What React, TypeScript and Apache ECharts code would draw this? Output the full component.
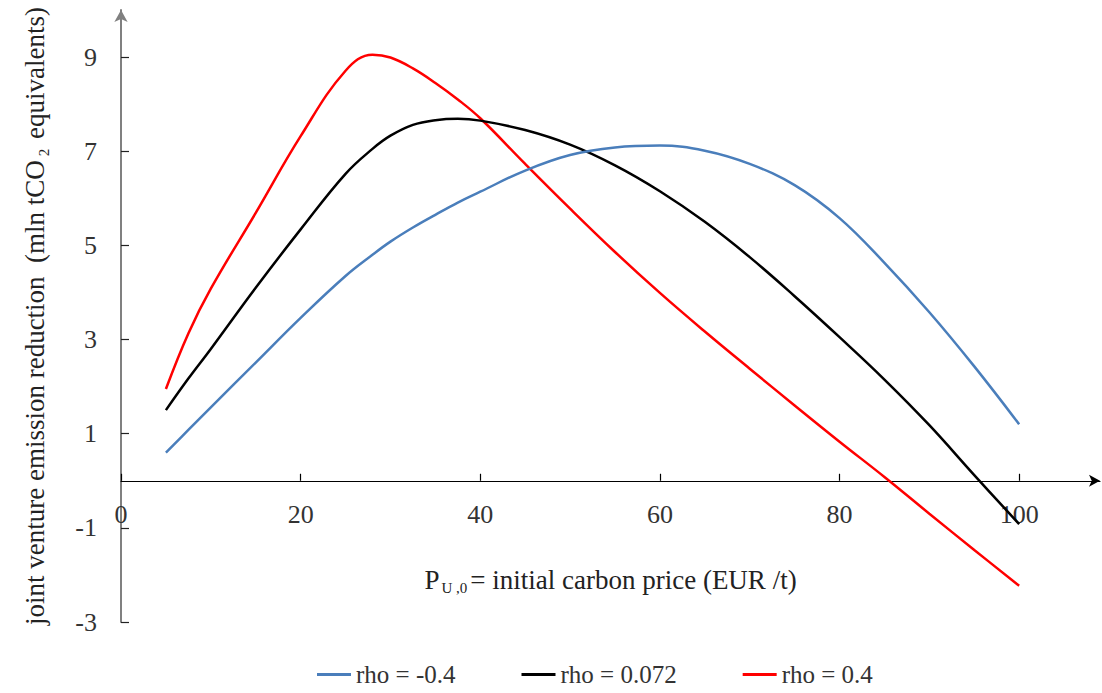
import React, { useEffect, useRef } from "react";
import * as echarts from "echarts";

// Initial carbon price P_U,0 (EUR/t)
const prices = [5, 7.5, 10, 15, 20, 25, 28, 30, 32.5, 35, 37.5, 40, 45, 50, 55, 60, 65, 70, 75, 80, 85, 90, 95, 100];

// Joint venture emission reduction (mln tCO2 equivalents) per correlation rho
const rhoNeg04 = [0.6, 1.08, 1.56, 2.51, 3.46, 4.35, 4.8, 5.08, 5.38, 5.65, 5.91, 6.14, 6.59, 6.92, 7.08, 7.12, 7.01, 6.73, 6.28, 5.58, 4.63, 3.58, 2.43, 1.2];
const rho0072 = [1.5, 2.17, 2.8, 4.1, 5.34, 6.52, 7.05, 7.33, 7.56, 7.66, 7.69, 7.65, 7.45, 7.14, 6.7, 6.15, 5.5, 4.75, 3.92, 3.05, 2.15, 1.18, 0.12, -0.92];
const rhoPos04 = [1.95, 3.13, 4.08, 5.69, 7.32, 8.71, 9.05, 8.99, 8.76, 8.45, 8.1, 7.7, 6.73, 5.78, 4.86, 3.99, 3.17, 2.38, 1.6, 0.83, 0.08, -0.7, -1.47, -2.23];

const seriesNames = ["rho = -0.4", "rho = 0.072", "rho = 0.4"];
const seriesColors = ["#4a7ebb", "#000000", "#ff0000"];

const xTicks = [0, 20, 40, 60, 80, 100];
const yTicks = [-3, -1, 1, 3, 5, 7, 9];

const Y_MIN = -3;
const Y_MAX = 10;

const FONT = "'Liberation Serif', 'DejaVu Serif', serif";

export default function App() {
  const ref = useRef<HTMLDivElement>(null);

  useEffect(() => {
    if (!ref.current) return;
    const chart = echarts.init(ref.current, undefined, { renderer: "svg" });
    const pair = (vals: number[]) => prices.map((p, i) => [p, vals[i]]);
    const allValues = [rhoNeg04, rho0072, rhoPos04];

    const gridTop = 10;
    const gridBottom = 71;
    const plotHeight = 693 - gridTop - gridBottom;
    // shift the price axis up from the grid bottom to the y = 0 line
    const zeroOffset = -plotHeight * (0 - Y_MIN) / (Y_MAX - Y_MIN);

    chart.setOption({
      animation: false,
      backgroundColor: "#ffffff",
      grid: {
        left: 121,
        right: 2,
        top: gridTop,
        bottom: gridBottom,
        containLabel: false,
        outerBoundsMode: "none",
      },
      legend: {
        left: 312,
        top: 657,
        icon: "rect",
        itemWidth: 34,
        itemHeight: 3,
        itemGap: 66,
        textStyle: { fontFamily: FONT, fontSize: 25, color: "#333333" },
        data: seriesNames,
      },
      xAxis: {
        type: "value",
        min: 0,
        max: 109,
        offset: zeroOffset,
        splitLine: { show: false },
        axisLine: {
          onZero: false,
          symbol: ["none", "arrow"],
          symbolSize: [9, 11],
          lineStyle: { color: "#000000", width: 1.2 },
        },
        axisTick: {
          inside: true,
          length: 7,
          customValues: xTicks,
          lineStyle: { color: "#000000", width: 1.2 },
        },
        axisLabel: {
          customValues: xTicks,
          margin: 21,
          fontFamily: FONT,
          fontSize: 26,
          color: "#333333",
        },
        name: "{p|P}{s|U ,0}{p|= initial carbon price (EUR /t)}",
        nameLocation: "middle",
        nameGap: 83,
        nameTextStyle: {
          rich: {
            p: { fontFamily: FONT, fontSize: 27, color: "#222222", lineHeight: 32 },
            s: { fontFamily: FONT, fontSize: 15, color: "#222222", verticalAlign: "bottom", lineHeight: 32, padding: [10, 3, 0, 2] },
          },
        },
      },
      yAxis: {
        type: "value",
        min: Y_MIN,
        max: Y_MAX,
        splitLine: { show: false },
        axisLine: {
          onZero: false,
          symbol: ["none", "arrow"],
          symbolSize: [10, 12],
          lineStyle: { color: "#808080", width: 2 },
        },
        axisTick: {
          inside: true,
          length: 8,
          customValues: yTicks,
          lineStyle: { color: "#222222", width: 1.2 },
        },
        axisLabel: {
          customValues: yTicks,
          margin: 24,
          fontFamily: FONT,
          fontSize: 26,
          color: "#333333",
        },
        name: "{p|joint venture emission reduction  (mln tCO}{s|2}{p| equivalents)}",
        nameLocation: "middle",
        nameGap: 70,
        nameTextStyle: {
          rich: {
            p: { fontFamily: FONT, fontSize: 27, color: "#222222", lineHeight: 32 },
            s: { fontFamily: FONT, fontSize: 15, color: "#222222", verticalAlign: "bottom", lineHeight: 32, padding: [10, 3, 0, 4] },
          },
        },
      },
      series: seriesNames.map((name, i) => ({
        name,
        type: "line",
        data: pair(allValues[i]),
        smooth: 0.4,
        showSymbol: false,
        symbol: "none",
        lineStyle: { color: seriesColors[i], width: 2.5 },
        itemStyle: { color: seriesColors[i] },
        z: 3 - i,
      })),
    });

    return () => chart.dispose();
  }, []);

  return (
    <div
      ref={ref}
      style={{ position: "fixed", left: 0, top: 0, width: 1102, height: 693 }}
    />
  );
}
